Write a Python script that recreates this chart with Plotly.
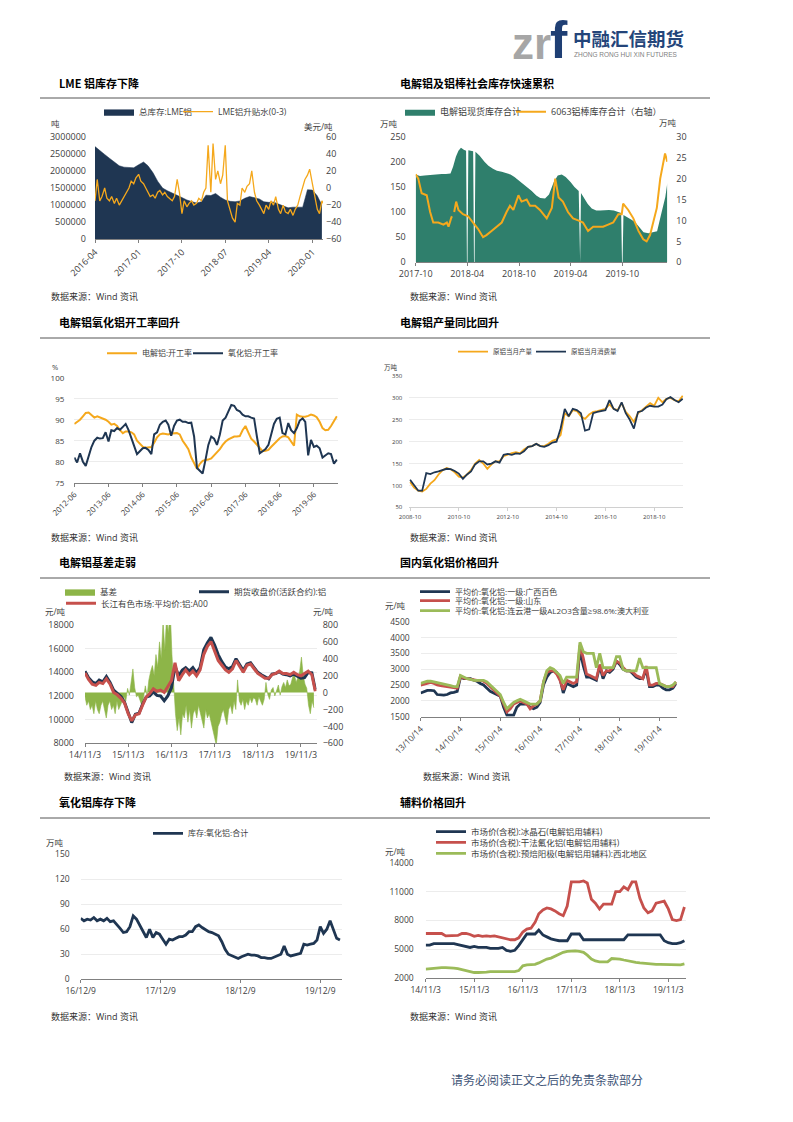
import pandas as pd
import plotly.graph_objects as go

# page is 793x1122; the browser puts the figure 8px in from the top-left corner
PAGE_W, PAGE_H, OFF = 793, 1122, 8
W, H = PAGE_W - OFF, PAGE_H - OFF
def fx(p): return (p - OFF) / W
def fy(p): return 1 - (p - OFF) / H

NAVY = '#1f3652'
ORANGE = '#f5a81c'
RED = '#c6504c'
GREEN = '#9bbb59'
TEAL = '#2f7f6c'
BASIS_GREEN = '#8db548'
TXT = '#404040'
CJK = 'Noto Sans CJK SC'
NUM = 'Open Sans, Noto Sans CJK SC'
MIX = 'Open Sans, Noto Sans CJK SC'

# ---------------- data ----------------
# Chart 1: LME aluminium stocks (t, monthly from 2016-04) and 0-3 spread (USD/t, semi-monthly)
lme_stock = [2710000, 2610000, 2480000, 2370000, 2270000, 2150000, 2110000, 2100000, 2090000,
             2180000, 2260000, 2150000, 1950000, 1700000, 1500000, 1420000, 1360000, 1290000, 1220000, 1150000, 1100000,
             1060000, 1100000, 1290000, 1280000, 1340000, 1230000, 1150000, 1110000, 1100000, 1120000, 1200000, 1250000,
             1220000, 1180000, 1100000, 1080000, 1090000, 1040000, 980000, 920000, 940000, 950000, 940000, 1450000,
             1440000, 1270000, 1000000]
lme_spread = [-15, 10, -15, -10, 0, -12, -15, -10, -18, -12, -20, -15, -10, -5, 0, 8, 5, 12,
              16, 8, 5, 0, -5, -10, -8, -12, -5, -3, -8, -5, -10, -12, -15, -10, 10, -5, -30, -15, -22, -18, -15, -20,
              -18, -12, -15, -5, 0, 50, -5, 52, 10, 20, 5, 15, 50, -15, -25, -35, -40, -18, -20, 0, -5, 2, 5, 20,
              -5, -15, -20, -25, -30, -20, -25, -15, -20, -10, -25, -30, -20, -28, -30, -25, -32, -25, -20, -10, 0, 10, 15, 22,
              5, -10, -25, -30, -15, -20]

# Chart 2: social inventory of primary aluminium (10kt) and 6063 billets (10kt, right axis)
spot_dates = ['2017-10-01', '2017-10-16', '2017-11-01', '2017-11-16', '2017-12-01', '2017-12-16', '2018-01-01',
              '2018-01-16', '2018-02-01', '2018-02-10', '2018-02-20', '2018-03-01', '2018-03-10', '2018-03-20',
              '2018-03-28', '2018-03-31', '2018-04-02', '2018-04-05', '2018-04-15', '2018-04-22', '2018-04-25',
              '2018-04-27', '2018-04-30', '2018-05-15', '2018-06-01', '2018-06-15', '2018-07-01', '2018-07-15',
              '2018-08-01', '2018-08-15', '2018-09-01', '2018-09-15', '2018-10-01', '2018-10-15', '2018-11-01',
              '2018-11-15', '2018-12-01', '2018-12-15', '2019-01-01', '2019-01-15', '2019-02-01', '2019-02-15',
              '2019-03-01', '2019-03-15', '2019-04-01', '2019-04-15', '2019-04-30', '2019-05-03', '2019-05-05',
              '2019-05-08', '2019-05-20', '2019-06-01', '2019-06-15', '2019-07-01', '2019-07-15', '2019-08-01',
              '2019-08-15', '2019-09-01', '2019-09-15', '2019-09-27', '2019-09-30', '2019-10-02', '2019-10-05',
              '2019-10-15', '2019-11-01', '2019-11-15', '2019-12-01', '2019-12-15', '2020-01-01', '2020-01-15',
              '2020-02-01', '2020-02-15', '2020-03-01', '2020-03-08']
spot_stock = [175, 172, 173, 174, 174, 176, 176, 176, 177, 190, 210, 222, 228, 224,
              222, 0, 0, 223, 222, 221, 0,
              0, 220, 212, 200, 192, 186, 182,
              180, 178, 175, 170, 163, 157, 150,
              142, 133, 128, 127, 135, 160, 173,
              175, 170, 160, 150, 142, 0, 0,
              138, 128, 116, 107, 103, 103, 104,
              104, 103, 100, 98, 0, 0, 94,
              90, 85, 80, 70, 60, 58, 60,
              62, 95, 130, 158]
rod_dates = ['2017-10-01', '2017-10-10', '2017-10-22', '2017-11-09', '2017-11-21', '2017-12-02', '2017-12-20',
             '2018-01-07', '2018-01-19', '2018-01-25', '2018-02-03', '2018-02-06', '2018-02-10', '2018-02-14',
             '2018-02-21', '2018-03-01', '2018-03-17', '2018-04-04', '2018-04-22', '2018-05-09', '2018-05-27',
             '2018-06-08', '2018-06-26', '2018-07-13', '2018-08-01', '2018-08-18', '2018-08-30', '2018-09-11',
             '2018-09-29', '2018-10-10', '2018-10-28', '2018-11-09', '2018-11-27', '2018-12-14', '2019-01-07',
             '2019-01-25', '2019-02-06', '2019-02-18', '2019-03-05', '2019-03-23', '2019-04-10', '2019-04-28',
             '2019-05-15', '2019-06-02', '2019-06-20', '2019-07-07', '2019-07-25', '2019-08-12', '2019-08-30',
             '2019-09-17', '2019-09-29', '2019-10-04', '2019-10-22', '2019-11-09', '2019-11-27', '2019-12-14',
             '2019-12-26', '2020-01-07', '2020-01-19', '2020-01-31', '2020-02-12', '2020-02-24', '2020-02-29',
             '2020-03-08']
rod_stock = [21, 20, 16.5, 16, 12, 9.5, 9.5, 9, 9.5, 8.5, 10.5, 11, None, 12, 14.5, 12.5, 11.5, 11, 9.5, 8, 6, 6.5,
             7.5, 8.5, 9.5, 12, 13.5, 12.5, 16, 14.5, 15, 13.5, 13.5, 12.5, 10.5, 13, 20, 15.5, 14.5, 12, 10.5, 10,
             9.5, 7.5, 8.5, 8.5, 8.5, 9, 9.5, 11.5, 11.5, 14, 12.5, 10.5, 7.5, 5.5, 5, 6.5, 10, 13, 20, 25, 26, 24]

# Chart 3: operating rates (%), monthly from 2012-06
al_rate = [89, 89.5, 90, 90.8, 91.6, 91.7, 91,
           90.5, 90.8, 90.6, 90.3, 90, 89.5, 88.8, 89, 88.5, 87.5, 86.8, 87.2,
           87.2, 87, 86.5, 85, 84.2, 83.6, 83.3, 83.4, 83.5, 84.5, 85.8, 86.5,
           86.7, 86.6, 86.5, 86.7, 86.8, 86.8, 86.5, 85, 84, 83, 81, 79.5,
           78.3, 79.5, 80.2, 80.4, 80.5, 80.8, 81.5, 82.3, 83, 84, 84.8, 85.3,
           85.6, 86, 86, 86.1, 87.5, 88.5, 87, 85.5, 84.8, 84, 83.2, 82.5,
           82.6, 82.8, 83.5, 84.2, 85, 85.6, 86, 86.1, 85.8, 84.8, 83.8, 91.2,
           90.8, 90.7, 90.7, 90.9, 91.2, 91, 90.6, 89.5, 88, 87.5, 87.6, 88.5,
           89.6, 90.8]
alumina_rate = [81, 79.8, 82, 80, 79, 81.5, 83.5,
                85, 85.7, 85.5, 85.6, 87, 84.8, 87.5, 87.3, 88, 87.6, 88.3, 89,
                87.5, 85.5, 83.5, 81.8, 82.5, 83.2, 83.3, 82.8, 81.8, 86.5, 87, 88.8,
                89.5, 89.8, 88.8, 86.2, 88.5, 89.8, 90, 89.5, 89.5, 89.2, 89.3, 86,
                78.5, 77.8, 77.2, 80.5, 84, 86, 85.5, 84, 86.5, 89.8, 90.5, 92,
                93.5, 93.3, 92.3, 92, 91.2, 90.8, 90.8, 90.5, 90.3, 86, 82, 82.5,
                83, 84, 86.5, 89, 90.2, 90.5, 86.8, 86.5, 89.2, 87.5, 86.8, 88,
                89.8, 90.3, 89.5, 81.5, 85.2, 83.5, 83.8, 83.2, 81, 81.5, 82, 81.8,
                79.5, 80.5]

# Chart 4: primary aluminium output & consumption (10kt), bi-monthly from 2008-10
al_output = [108, 95, 88, 86, 92, 104, 112, 125, 135, 140, 137, 130, 120, 118, 125, 135, 150, 158, 150, 138,
             148, 155, 155, 167, 170, 174, 176, 173, 182, 188, 190, 195, 190, 190, 195, 202, 205, 215, 265, 258,
             272, 270, 258, 252, 262, 268, 270, 272, 275, 285, 275, 272, 288, 268, 258, 245, 265, 272, 280, 288,
             282, 300, 290, 298, 300, 295, 292, 305]
al_consumption = [113, 100, 88, 88, 128, 126, 130, 132, 135, 138, 137, 133, 127, 115, 125, 132, 148, 155, 155, 148,
                  150, 155, 152, 170, 172, 170, 173, 172, 178, 188, 190, 195, 190, 188, 192, 198, 200, 230, 275, 258,
                  275, 272, 265, 225, 228, 265, 268, 270, 272, 295, 275, 270, 290, 265, 250, 230, 268, 270, 278, 282,
                  280, 280, 285, 297, 302, 295, 290, 298]

# Chart 5: basis (yuan/t, right axis, ~15-day) and prices (yuan/t, monthly from 2014-11)
basis = [-50, -150, -100, -200, -150, -250, -100, -200, -250, -150, -100, -200, -300, -150, -100, -200,
         -150, -250, -100, -200, -150, -80, -50, -100, 50, -30, 120, 280, 60, -50, -30, -100, -150, -60,
         80, -40, 150, 250, 320, 200, 450, 300, 600, 400, 850, 500, 900, 700, 1000, 450, 100, -250,
         -450, -300, -500, -250, -300, -150, -350, -200, -420, -250, -200, -300, -150, -250, -350, -420,
         -200, -300, -250, -350, -450, -550, -620, -400, -350, -250, -200, -300, -380, -200, -150, -250,
         -100, -200, 150, -100, -150, -80, -200, -100, -150, -60, -120, -60, -80, -150, -50, -100,
         -150, -80, 120, -20, -80, 30, 60, -40, 40, 90, -30, 70, 120, 60, 150, 80, 100, 180, 220, 120,
         180, 250, 420, 200, 100, 50, -150, -250, -100, -180]
futures_price = [14100, 13550, 13200, 13050, 13350, 13200, 13650, 13150, 12500, 12250, 11950, 11480, 10500, 9750,
                 10450, 10550, 11300, 11900, 12000, 12350, 12050, 12000, 11600, 12000, 12700, 14500,
                 13700, 14200, 14400, 14100, 14400, 13950, 14400, 15900, 16500, 16950, 16300, 15500,
                 14900, 14450, 14300, 14500, 15150, 14650, 14150, 14700, 14800, 14400, 14000, 13800,
                 13650, 13450, 13850, 13900, 14050, 13850, 13800, 13700, 13850, 13650, 13500, 13550,
                 14000, 13950, 12550]
a00_price = [13950, 13400, 13000, 12900, 13150, 13050, 13450, 13000, 12300, 12100, 11800, 11400, 10500, 9900,
             10400, 10500, 11200, 11900, 12200, 12600, 12400, 12500, 12300, 12800, 13300, 14800,
             13300, 13800, 14200, 13800, 14100, 13700, 14200, 15500, 16200, 16600, 15800, 15000,
             14600, 14200, 14000, 14300, 15000, 14500, 14000, 14600, 14700, 14300, 13900, 13700,
             13500, 13500, 13800, 13900, 14100, 13900, 13900, 13800, 14000, 13800, 13700, 13900,
             14100, 13800, 12400]

# Chart 6: alumina prices (yuan/t), monthly from 2013-10
alumina_gx = [2250, 2300, 2330,
              2330, 2320, 2200, 2180, 2180, 2200, 2250, 2270, 2300, 2750, 2700, 2700,
              2700, 2650, 2620, 2550, 2500, 2400, 2300, 2250, 2200, 2150, 1800, 1550,
              1550, 1550, 1800, 1900, 1900, 1900, 1800, 1750, 1800, 1950, 2500, 2750,
              2900, 2950, 2900, 2700, 2250, 2550, 2500, 2450, 2500, 3600, 3100, 2750,
              2750, 2700, 2650, 3100, 2700, 2950, 2900, 3000, 3250, 3150, 3000, 2950,
              2950, 2850, 2750, 2700, 2700, 3000, 2450, 2450, 2500, 2500, 2400, 2350,
              2350, 2400, 2550]
alumina_sd = [2500, 2520, 2560,
              2580, 2550, 2500, 2480, 2460, 2450, 2430, 2420, 2400, 2780, 2720, 2700,
              2680, 2650, 2650, 2650, 2620, 2550, 2450, 2350, 2250, 2150, 1900, 1650,
              1750, 1900, 1950, 2000, 1950, 1900, 1750, 1850, 1900, 2000, 2600, 2900,
              2950, 2950, 2850, 2650, 2350, 2650, 2600, 2550, 2600, 3750, 3350, 2850,
              2800, 2750, 2700, 3150, 2800, 2950, 2950, 3050, 3250, 3200, 3050, 2950,
              2950, 2900, 2800, 2750, 2700, 3100, 2500, 2500, 2550, 2550, 2500, 2450,
              2450, 2450, 2600]
alumina_au = [2550, 2580, 2620,
              2620, 2600, 2560, 2540, 2520, 2500, 2480, 2450, 2450, 2800, 2750, 2700,
              2680, 2650, 2650, 2650, 2650, 2600, 2500, 2400, 2300, 2200, 1950, 1750,
              1850, 1950, 2000, 2050, 2000, 1950, 1900, 1900, 1900, 2000, 2600, 2950,
              3050, 3000, 2900, 2800, 2550, 2750, 2750, 2750, 2750, 3850, 3550, 3500,
              3500, 3500, 3050, 3500, 3050, 3050, 3050, 3050, 3400, 3400, 3000, 2950,
              2950, 2950, 2950, 3350, 3050, 3050, 3050, 3050, 3050, 2550, 2500, 2450,
              2450, 2500, 2600]

# Chart 7: alumina inventory (10kt), ~15-day from 2016-12-09
alumina_stock = [73, 70, 72, 71, 74, 70, 72, 70, 73, 69, 70, 66, 61, 56, 57, 63, 76, 72, 64, 58,
                 50, 60, 50, 56, 54, 48, 42, 48, 47, 49, 51, 51, 53, 57, 57, 63, 65, 62, 60, 57,
                 56, 54, 52, 45, 36, 30, 28, 26, 25, 27, 29, 30, 29, 29, 28, 26, 26, 25, 25, 27,
                 28, 30, 40, 30, 28, 29, 30, 31, 42, 41, 42, 43, 47, 63, 55, 60, 70, 60, 49, 47]

# Chart 8: auxiliary material prices (yuan/t), monthly from 2014-11
cryolite = [5450, 5450,
            5600, 5600, 5600, 5600, 5600, 5600, 5500, 5400, 5300, 5200, 5300, 5200,
            5200, 5200, 5100, 5100, 5100, 5200, 4900, 4800, 4900, 5400, 6000, 6600,
            6600, 6600, 7000, 6500, 6300, 6100, 6000, 5900, 5900, 5900, 6600, 6600,
            6600, 6000, 6000, 6000, 6000, 6000, 6000, 6000, 6000, 6000, 6000, 6000,
            6500, 6500, 6500, 6500, 6500, 6500, 6500, 6500, 6500, 5900, 5700, 5600,
            5600, 5700, 5900]
alf3 = [6650, 6650,
        6650, 6650, 6650, 6400, 6400, 6450, 6450, 6650, 6650, 6550, 6350, 6450,
        6350, 6400, 6350, 6400, 6300, 6200, 6100, 6000, 6000, 6200, 6800, 7100,
        7200, 7800, 8700, 9100, 9300, 9200, 9000, 8700, 8500, 9500, 12000, 12000,
        12000, 12100, 11900, 10200, 9800, 9200, 9700, 9700, 9700, 11000, 11000, 11500,
        11200, 12000, 12000, 10300, 9300, 8800, 9000, 9800, 9900, 10000, 9200, 8100,
        8000, 8100, 9400]
anode = [2950, 3000,
         3050, 3100, 3100, 3100, 3100, 3050, 3000, 2900, 2800, 2700, 2600, 2600,
         2600, 2650, 2700, 2700, 2650, 2650, 2650, 2700, 2700, 2800, 3300, 3400,
         3400, 3450, 3600, 3800, 4000, 4100, 4300, 4500, 4700, 4800, 4850, 4850,
         4800, 4700, 4400, 4000, 3800, 3700, 3700, 3700, 4050, 4050, 4000, 3900,
         3800, 3700, 3650, 3600, 3550, 3500, 3500, 3450, 3450, 3450, 3400, 3400,
         3400, 3400, 3500]

def monthly(start, n):
    return pd.date_range(start, periods=n, freq=pd.DateOffset(months=1))

def every(start, n, freq):
    return pd.date_range(start, periods=n, freq=freq)

# ---------------- figure ----------------
fig = go.Figure()
legends = {}
leg_count = [0]

def new_legend(text_x, y, size):
    leg_count[0] += 1
    key = 'legend' if leg_count[0] == 1 else 'legend%d' % leg_count[0]
    legends[key] = dict(x=fx(text_x - 40), y=fy(y), xanchor='left', yanchor='middle',
                        orientation='h', bgcolor='rgba(0,0,0,0)', borderwidth=0,
                        font=dict(size=size, color=TXT, family=MIX), itemwidth=30,
                        tracegroupgap=0)
    return key

def add_line(x, y, name, color, xa, ya, leg, width=1.5):
    fig.add_trace(go.Scatter(x=x, y=y, name=name, mode='lines', line=dict(color=color, width=width),
                             xaxis=xa, yaxis=ya, legend=leg, showlegend=True, hoverinfo='skip'))

def add_area(x, y, name, color, xa, ya, leg, lw=0.5):
    fig.add_trace(go.Scatter(x=x, y=y, name=name, mode='lines', fill='tozeroy', fillcolor=color,
                             line=dict(color=color, width=lw), xaxis=xa, yaxis=ya, legend=leg,
                             showlegend=True, hoverinfo='skip'))

# chart 1
add_area(every('2016-04-01', len(lme_stock), 'MS'), lme_stock, '总库存:LME铝', NAVY, 'x', 'y', new_legend(139, 111.7, 8.5))
add_line(every('2016-04-01', len(lme_spread), 'SMS'), lme_spread, 'LME铝升贴水(0-3)', ORANGE, 'x', 'y2', new_legend(218, 111.7, 8.5), 1.3)
# chart 2
add_area(spot_dates, spot_stock, '电解铝现货库存合计', TEAL, 'x2', 'y3', new_legend(440, 111.7, 9), 0)
add_line(rod_dates, rod_stock, '6063铝棒库存合计（右轴）', ORANGE, 'x2', 'y4', new_legend(551, 111.7, 9), 2)
# chart 3
add_line(monthly('2012-06-01', len(al_rate)), al_rate, '电解铝:开工率', ORANGE, 'x3', 'y5', new_legend(142, 353.3, 8), 2)
add_line(monthly('2012-06-01', len(alumina_rate)), alumina_rate, '氧化铝:开工率', NAVY, 'x3', 'y5', new_legend(228, 353.3, 8), 2)
# chart 4
add_line(every('2008-10-01', len(al_output), '2MS'), al_output, '原铝当月产量', ORANGE, 'x4', 'y6', new_legend(493, 351.7, 6.5), 1.8)
add_line(every('2008-10-01', len(al_consumption), '2MS'), al_consumption, '原铝当月消费量', NAVY, 'x4', 'y6', new_legend(571, 351.7, 6.5), 1.8)
# chart 5 (basis on base axis so that prices draw on top)
add_area(every('2014-11-03', len(basis), '15D'), basis, '基差', BASIS_GREEN, 'x5', 'y7', new_legend(100, 591.7, 8.5), 0.6)
add_line(monthly('2014-11-03', len(futures_price)), futures_price, '期货收盘价(活跃合约):铝', NAVY, 'x5', 'y8', new_legend(234, 591.7, 8.5), 3)
add_line(monthly('2014-11-03', len(a00_price)), a00_price, '长江有色市场:平均价:铝:A00', RED, 'x5', 'y8', new_legend(101, 603.3, 8.5), 3)
# chart 6
add_line(monthly('2013-10-14', len(alumina_gx)), alumina_gx, '平均价:氧化铝:一级:广西百色', NAVY, 'x6', 'y9', new_legend(455, 591.7, 8), 2.8)
add_line(monthly('2013-10-14', len(alumina_sd)), alumina_sd, '平均价:氧化铝:一级:山东', RED, 'x6', 'y9', new_legend(455, 600.7, 8), 2.8)
add_line(monthly('2013-10-14', len(alumina_au)), alumina_au, '平均价:氧化铝:连云港一级AL2O3含量≥98.6%:澳大利亚', GREEN, 'x6', 'y9', new_legend(455, 610.7, 8), 2.8)
# chart 7
add_line(every('2016-12-09', len(alumina_stock), '15D'), alumina_stock, '库存:氧化铝:合计', NAVY, 'x7', 'y10', new_legend(188, 833.3, 8), 2.8)
# chart 8
add_line(monthly('2014-11-03', len(cryolite)), cryolite, '市场价(含税):冰晶石(电解铝用辅料)', NAVY, 'x8', 'y11', new_legend(471, 831.7, 8.5), 2.8)
add_line(monthly('2014-11-03', len(alf3)), alf3, '市场价(含税):干法氟化铝(电解铝用辅料)', RED, 'x8', 'y11', new_legend(471, 842.3, 8.5), 2.8)
add_line(monthly('2014-11-03', len(anode)), anode, '市场价(含税):预焙阳极(电解铝用辅料):西北地区', GREEN, 'x8', 'y11', new_legend(471, 853.3, 8.5), 2.8)

# ---------------- axes ----------------
def xax(x0, x1, anchor, rng, tick0, dtick, fmt, angle, size, linecolor='#808080'):
    return dict(domain=[fx(x0), fx(x1)], anchor=anchor, type='date', range=rng, tick0=tick0, dtick=dtick,
                tickformat=fmt, tickangle=angle, showline=True, linecolor=linecolor, linewidth=1,
                ticks='outside', ticklen=3, tickcolor=linecolor, tickfont=dict(size=size, color=TXT, family=NUM),
                showgrid=False, zeroline=False, fixedrange=True, automargin=False)

def yax(y0, y1, anchor, rng, dtick, size, grid=False, side='left', standoff=6, overlay=None):
    d = dict(anchor=anchor, range=rng, dtick=dtick, tick0=rng[0], side=side, showline=False, ticks='',
             tickfont=dict(size=size, color=TXT, family=NUM), showgrid=grid, gridcolor='#ececec', gridwidth=1,
             zeroline=False, fixedrange=True, ticklabelstandoff=standoff, automargin=False, tickformat='d')
    if overlay:
        d['overlaying'] = overlay
    else:
        d['domain'] = [fy(y1), fy(y0)]
    return d

layout = dict(
    width=W, height=H, autosize=False, margin=dict(l=0, r=0, t=0, b=0, autoexpand=False),
    paper_bgcolor='white', plot_bgcolor='white', font=dict(family=MIX, color=TXT),
    xaxis=xax(95, 323, 'y', ['2016-04-01', '2020-03-08'], '2016-04-01', 'M9', '%Y-%m', -45, 9),
    yaxis=yax(136.7, 239.3, 'x', [0, 3000000], 500000, 9, standoff=8),
    yaxis2=yax(136.7, 239.3, 'x', [-60, 60], 20, 9, side='right', standoff=2, overlay='y'),
    xaxis2=xax(415.7, 667.3, 'y3', ['2017-10-01', '2020-03-08'], '2017-10-01', 'M6', '%Y-%m', 0, 9),
    yaxis3=yax(136.7, 262.3, 'x2', [0, 250], 50, 9, standoff=9),
    yaxis4=yax(136.7, 262.3, 'x2', [0, 30], 5, 9, side='right', standoff=8, overlay='y3'),
    xaxis3=xax(74.3, 337.7, 'y5', ['2012-06-01', '2020-02-10'], '2012-06-01', 'M12', '%Y-%m', -45, 8),
    yaxis5=yax(377.7, 482.7, 'x3', [75, 100], 5, 8, grid=True, standoff=9),
    xaxis4=xax(409.3, 683.3, 'y6', ['2008-09-20', '2019-12-10'], '2008-10-01', 'M24', '%Y-%m', 0, 6, linecolor='#d0d0d0'),
    yaxis6=yax(376, 507.3, 'x4', [50, 350], 50, 6, grid=True, standoff=6),
    xaxis5=xax(85, 316.7, 'y7', ['2014-11-03', '2020-03-15'], '2014-11-03', 'M12', '%y/%m/%-d', 0, 9),
    yaxis7=yax(625, 743.3, 'x5', [-600, 800], 200, 9, side='right', standoff=5),
    yaxis8=yax(625, 743.3, 'x5', [8000, 18000], 2000, 9, grid=True, standoff=10, overlay='y7'),
    xaxis6=xax(420.7, 676.7, 'y9', ['2013-10-14', '2020-03-20'], '2013-10-14', 'M12', '%y/%m/%d', -45, 8.5),
    yaxis9=yax(621.7, 716.7, 'x6', [1500, 4500], 500, 8.5, grid=True, standoff=10),
    xaxis7=xax(80.7, 341.7, 'y10', ['2016-12-09', '2020-03-16'], '2016-12-09', 'M12', '%y/%m/%-d', 0, 8.5),
    yaxis10=yax(854, 979.3, 'x7', [0, 150], 30, 8.5, grid=True, standoff=10),
    xaxis8=xax(425.7, 686, 'y11', ['2014-11-03', '2020-03-15'], '2014-11-03', 'M12', '%y/%m/%-d', 0, 8.5),
    yaxis11=yax(862.7, 978.3, 'x8', [2000, 14000], 3000, 8.5, grid=True, standoff=11),
)
layout.update(legends)

# ---------------- annotations ----------------
ann = []
def text(t, x, y, size, color=TXT, xanchor='left', yanchor='middle', family=MIX):
    ann.append(dict(text=t, x=fx(x), y=fy(y), xref='paper', yref='paper', showarrow=False,
                    xanchor=xanchor, yanchor=yanchor, font=dict(size=size, color=color, family=family)))

titles = [('LME 铝库存下降', 57, 83), ('电解铝及铝棒社会库存快速累积', 398, 83),
          ('电解铝氧化铝开工率回升', 57, 322), ('电解铝产量同比回升', 398, 322),
          ('电解铝基差走弱', 57, 562), ('国内氧化铝价格回升', 398, 562),
          ('氧化铝库存下降', 57, 802), ('辅料价格回升', 398, 802)]
for t, x, y in titles:
    text('<b>' + t + '</b>', x, y, 11, color='#000000', family=CJK)

sources = [(49, 296), (408, 296), (49, 537), (408, 537), (62, 776), (421, 776), (49, 1016), (408, 1016)]
for x, y in sources:
    text('数据来源：Wind 资讯', x, y, 9, color='#333333')

units = [('吨', 55, 123, 8.5), ('美元/吨', 318, 127, 8.5),
         ('万吨', 389, 123, 8.5), ('万吨', 668, 122, 8.5),
         ('%', 55, 367, 7.5), ('万吨', 391, 367, 6.5),
         ('元/吨', 55, 611, 8.5), ('元/吨', 323, 611, 8.5),
         ('元/吨', 395, 605, 8.5), ('万吨', 55, 842, 8.5),
         ('元/吨', 395, 851, 8.5)]
for t, x, y, s in units:
    text(t, x, y, s, xanchor='center')

# header logo
text('<b>zr</b>', 510, 44, 44, color='#a6a6a6', family='Liberation Sans')
text('<b>f</b>', 548, 40, 52, color='#1f3f74', family='Liberation Sans')
text('<b>中融汇信期货</b>', 571, 38, 18.5, color='#24457a', family=CJK)
text('ZHONG RONG HUI XIN FUTURES', 572, 55, 6.5, color='#7f7f7f', family='Liberation Sans')
# footer
text('请务必阅读正文之后的免责条款部分', 547, 1079, 12, color='#3f5577', xanchor='center', family=CJK)

layout['annotations'] = ann

shapes = []
for y in [98, 338, 578, 818]:
    shapes.append(dict(type='line', xref='paper', yref='paper', x0=fx(40), x1=fx(710), y0=fy(y), y1=fy(y),
                       line=dict(color='#555555', width=1)))
layout['shapes'] = shapes

fig.update_layout(**layout)
fig.write_html('out.html')
